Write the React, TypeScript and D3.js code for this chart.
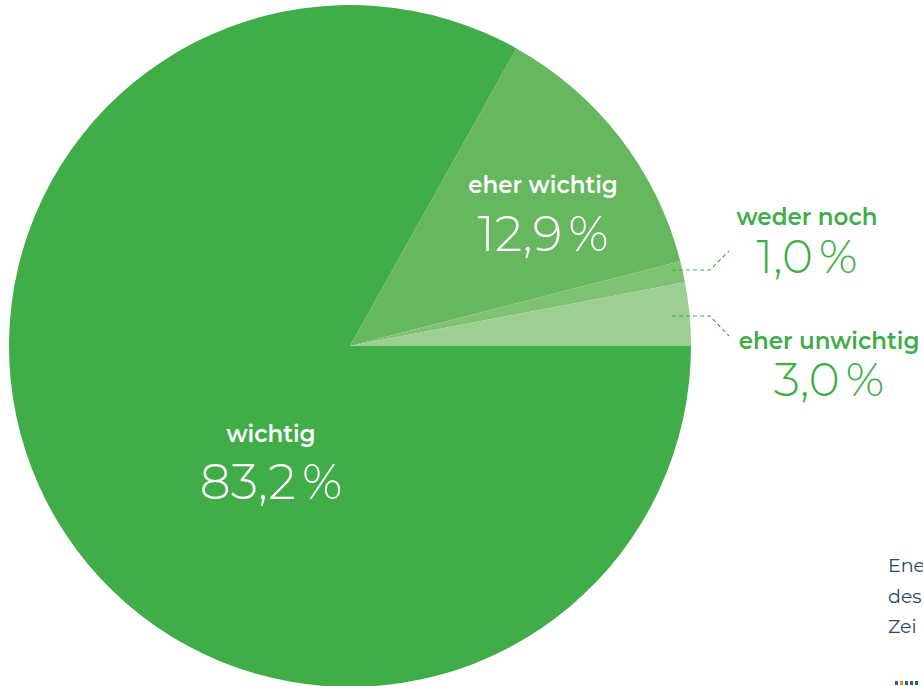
import React from "react";
import * as d3 from "d3";

const categories = ["wichtig", "eher wichtig", "weder noch", "eher unwichtig"];
const values = [83.2, 12.9, 1.0, 3.0];
const valueLabels = ["83,2\u2009%", "12,9\u2009%", "1,0\u2009%", "3,0\u2009%"];
const colors = ["#41ad49", "#66b760", "#80c273", "#9ccf91"];
const sideText = ["Ene", "des", "Zei"];
const dotColors = ["#2d5f8a", "#f08a24", "#2d5f8a", "#2d5f8a", "#2d5f8a"];

const W = 923;
const H = 686;
const cx = 350;
const cy = 346;
const R = 341;

export default function App() {
  const pie = d3
    .pie<number>()
    .sort(null)
    .startAngle(Math.PI / 2)
    .endAngle(Math.PI / 2 + 2 * Math.PI)(values);
  const arc = d3.arc<d3.PieArcDatum<number>>().innerRadius(0).outerRadius(R);
  const font = "Montserrat, 'Open Sans', Lato, sans-serif";
  const inside = [
    { i: 0, x: 271, y1: 442, y2: 499 },
    { i: 1, x: 543, y1: 193, y2: 251 },
  ];
  const outside = [
    { i: 2, x: 807, y1: 225, y2: 273, path: [[672, 270], [710, 270], [729, 251]] },
    { i: 3, x: 829, y1: 349, y2: 396, path: [[672, 316], [710, 316], [729, 336]] },
  ];
  const line = d3.line();
  return (
    <svg
      width={W}
      height={H}
      style={{ position: "absolute", left: 0, top: 0, background: "#fff" }}
    >
      <g transform={`translate(${cx},${cy})`}>
        {pie.map((d, k) => (
          <path key={k} d={arc(d) || ""} fill={colors[k]} />
        ))}
      </g>
      {inside.map((t) => (
        <g key={t.i} fill="#fff" textAnchor="middle" fontFamily={font}>
          <text x={t.x} y={t.y1} fontSize={23} fontWeight={600}>
            {categories[t.i]}
          </text>
          <text x={t.x} y={t.y2} fontSize={49} fontWeight={300}>
            {valueLabels[t.i]}
          </text>
        </g>
      ))}
      {outside.map((t) => (
        <g key={t.i} fill="#41ad49" textAnchor="middle" fontFamily={font}>
          <path
            d={line(t.path as [number, number][]) || ""}
            fill="none"
            stroke="#41ad49"
            strokeWidth={1.2}
            strokeDasharray="4,3"
          />
          <text x={t.x} y={t.y1} fontSize={23} fontWeight={600}>
            {categories[t.i]}
          </text>
          <text x={t.x} y={t.y2} fontSize={47} fontWeight={300}>
            {valueLabels[t.i]}
          </text>
        </g>
      ))}
      {sideText.map((s, k) => (
        <text key={k} x={888} y={572 + k * 30.5} fontSize={19} fontWeight={400} fill="#2b4a68" fontFamily={font}>
          {s}
        </text>
      ))}
      {dotColors.map((c, k) => (
        <rect key={k} x={895 + k * 5} y={681} width={3} height={4} fill={c} />
      ))}
    </svg>
  );
}
